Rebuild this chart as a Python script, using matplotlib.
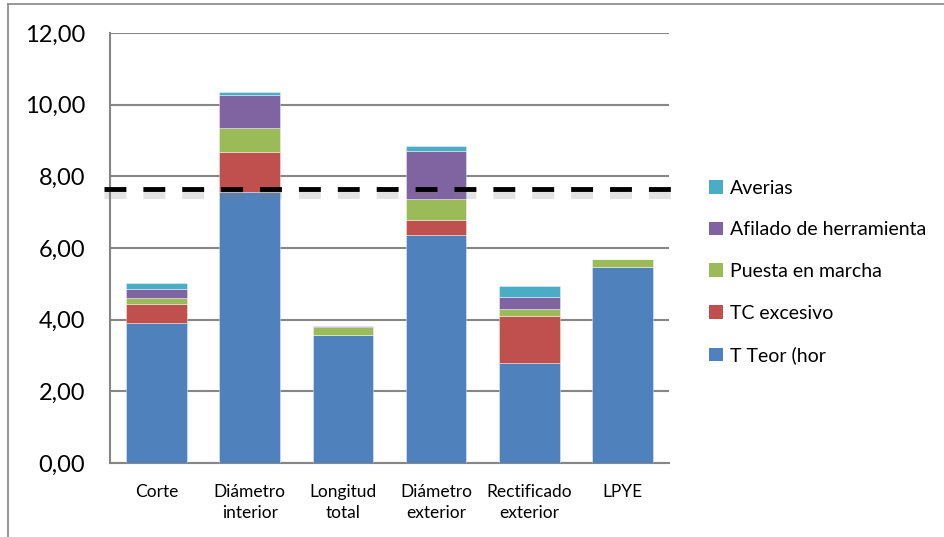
import matplotlib
matplotlib.use("Agg")
import matplotlib.pyplot as plt
import matplotlib.patheffects as pe
from matplotlib.patches import Patch
from matplotlib.lines import Line2D
import numpy as np

categories = ["Corte", "Diámetro\ninterior", "Longitud\ntotal", "Diámetro\nexterior", "Rectificado\nexterior", "LPYE"]
t_teor = [3.92, 7.55, 3.58, 6.35, 2.78, 5.48]
tc_excesivo = [0.52, 1.12, 0.00, 0.44, 1.33, 0.00]
puesta_marcha = [0.17, 0.68, 0.21, 0.58, 0.18, 0.22]
afilado = [0.25, 0.92, 0.04, 1.33, 0.33, 0.00]
averias = [0.17, 0.09, 0.00, 0.14, 0.32, 0.00]
target = 7.64
series_names = ["T Teor (hor", "TC excesivo", "Puesta en marcha", "Afilado de herramienta", "Averias"]
yticks = [0, 2, 4, 6, 8, 10, 12]

colors = ["#4F81BD", "#C0504D", "#9BBB59", "#8064A2", "#4BACC6"]

plt.rcParams['font.family'] = ['Lato', 'DejaVu Sans']

fig = plt.figure(figsize=(9.45, 5.37), dpi=100)
ax = fig.add_axes([110/945, 1-463/537, (669-110)/945, (463-33)/537])

x = np.arange(len(categories))
bottom = np.zeros(len(categories))
series = [t_teor, tc_excesivo, puesta_marcha, afilado, averias]
for vals, c, name in zip(series, colors, series_names):
    ax.bar(x, vals, bottom=bottom, width=0.65, color=c, edgecolor=(1, 1, 1, 0.45), linewidth=0.6, label=name, zorder=3)
    bottom += np.array(vals)

ax.set_xlim(-0.5, len(categories) - 0.5)
ax.set_ylim(0, 12)
ax.set_yticks(yticks)
ax.set_yticklabels([f"{v:.2f}".replace(".", ",") for v in yticks], fontsize=17)
ax.set_xticks(x)
ax.set_xticklabels(categories, fontsize=12.5, linespacing=1.4)
ax.tick_params(axis='x', length=0, pad=15)
ax.tick_params(axis='y', length=0, pad=18)
ax.yaxis.grid(True, color="#868686", linewidth=1.5, zorder=1)
for s in ["top", "right"]:
    ax.spines[s].set_visible(False)
for s in ["left", "bottom"]:
    ax.spines[s].set_color("#868686")
    ax.spines[s].set_linewidth(1.5)

ax.axhline(target, xmin=-0.01, xmax=1.02, color="black", linewidth=3.5, dashes=(4.5, 3.5), zorder=5, clip_on=False,
           path_effects=[pe.SimpleLineShadow(offset=(0, -3), shadow_color="gray", alpha=0.08, linewidth=8),
                         pe.SimpleLineShadow(offset=(0, -4), shadow_color="gray", alpha=0.15, linewidth=5),
                         pe.Normal()])

handles = [Patch(facecolor=c, edgecolor='none') for c in colors][::-1]
labels = series_names[::-1]
leg = fig.legend(handles, labels, loc="upper left", bbox_to_anchor=(692/945, 1-162/537), frameon=False,
                 fontsize=14, handlelength=0.7, handleheight=0.7, handletextpad=0.35, labelspacing=1.27)

# outer frame
fig.add_artist(Line2D([8/945, 8/945], [0, 1-4/537], color="#868686", linewidth=1.2))
fig.add_artist(Line2D([8/945, 1], [1-4/537, 1-4/537], color="#868686", linewidth=1.2))

fig.savefig("out.png", dpi=100)
